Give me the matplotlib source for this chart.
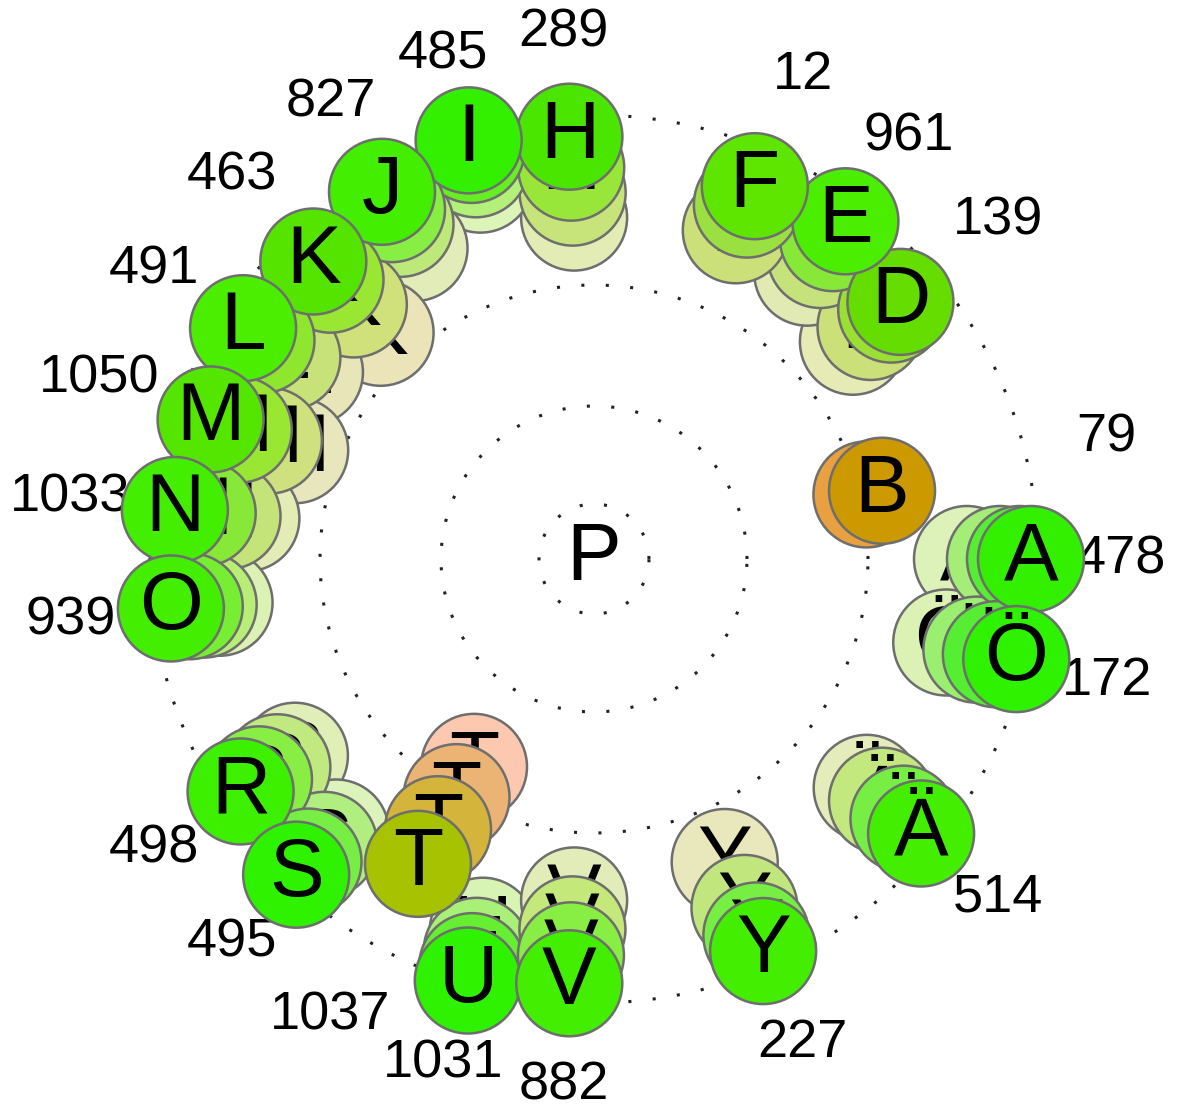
import numpy as np
import matplotlib.pyplot as plt
from matplotlib.patches import Circle

plt.rcParams['font.family'] = ['Liberation Sans', 'DejaVu Sans']

# 27 slots round the ring, slot i at i*360/27 degrees (counter-clockwise from the right)
n_slots = 27
centre_label = "P"
letters = ["A", "B", "D", "E", "F", "H", "I", "J", "K", "L", "M",
           "N", "O", "R", "S", "T", "U", "V", "Y", "Ä", "Ö"]
slots = [0, 1, 3, 4, 5, 7, 8, 9, 10, 11, 12,
         13, 14, 16, 17, 18, 19, 20, 22, 24, 26]
counts = [478, 79, 139, 961, 12, 289, 485, 827, 463, 491, 1050,
          1033, 939, 498, 495, 1037, 1031, 882, 227, 514, 172]

# distance from the centre for each step, newest first
radii = [
    [437, 426, 406, 373],  # A
    [296, 280],            # B
    [400, 388, 361, 338],  # D
    [421, 400, 379, 357],  # E
    [406, 386, 358],       # F
    [423, 392, 367, 342],  # H
    [437, 427, 412, 396],  # I
    [424, 404, 387, 359],  # J
    [409, 384, 350, 311],  # K
    [420, 398, 367, 340],  # L
    [408, 378, 346, 318],  # M
    [422, 394, 369, 350],  # N
    [426, 407, 393, 377],  # O
    [423, 401, 379, 358],  # R
    [434, 416, 393, 376],  # S
    [352, 312, 275, 240],  # T
    [440, 425, 409, 388],  # U
    [425, 397, 371, 342],  # V
    [427, 410, 380, 330],  # Y
    [427, 404, 376, 356],  # Ä
    [434, 413, 393, 362],  # Ö
]

ring_radii = [55, 153, 274, 444]

# fill colours, newest first
colors = {
    "A": ["#33f000", "#55ee33", "#a4ee77", "#dcf2b8"],
    "B": ["#cc9900", "#e8a040"],
    "D": ["#66dd00", "#99e033", "#cce07a", "#e6eab4"],
    "E": ["#4cee00", "#88e838", "#c6e27a", "#e2eab4"],
    "F": ["#5ee600", "#99e040", "#cce07a"],
    "H": ["#4be600", "#99e63a", "#c6e47a", "#e2ecb4"],
    "I": ["#33f000", "#66ee22", "#b2f07a", "#ddf4b8"],
    "J": ["#44ee00", "#88ee44", "#bde87a", "#e2ecb8"],
    "K": ["#55e400", "#99e633", "#d0e07a", "#eae4b8"],
    "L": ["#4cee00", "#8ee62e", "#c8e27a", "#e8e6b8"],
    "M": ["#55e600", "#99e633", "#cfe07e", "#e8e6bc"],
    "N": ["#44ee00", "#88e838", "#c4e47a", "#e2ecb4"],
    "O": ["#44ee00", "#77ee33", "#b8ee77", "#dcf2b4"],
    "R": ["#3cf000", "#88ee44", "#c0ea80", "#e0eeb8"],
    "S": ["#2ef200", "#77ee44", "#b0ee80", "#dcf4bc"],
    "T": ["#a6c200", "#d4b43a", "#ecb474", "#fcc8b0"],
    "U": ["#2ef200", "#66ee33", "#a8f077", "#d8f4b4"],
    "V": ["#44ee00", "#88ee44", "#c4e87a", "#e2ecb8"],
    "Y": ["#44ee00", "#77ee44", "#c2e67e", "#e8e8bc"],
    "Ä": ["#44ee00", "#77ee44", "#c2e87e", "#e4ecbc"],
    "Ö": ["#2ef200", "#55ee33", "#9aee70", "#dcf2b4"],
}

circle_r = 53
label_r = 527

fig = plt.figure(figsize=(11.82, 11.11), dpi=100)
ax = fig.add_axes([0, 0, 1, 1])
ax.set_xlim(-594, 588)
ax.set_ylim(-552, 559)
ax.set_aspect('equal')
ax.set_axis_off()

# dotted guide rings
t = np.linspace(0, 2 * np.pi, 600)
for rr in ring_radii:
    ax.plot(rr * np.cos(t), rr * np.sin(t), color='#222222', lw=2.2,
            linestyle=(0, (1, 7)), zorder=1)

ax.text(0, 0, centre_label, fontsize=59, ha='center', va='center', zorder=2)

def slot_angle(s):
    return np.deg2rad(s * 360.0 / n_slots)

# count labels sit underneath the circles
for s, c in zip(slots, counts):
    a = slot_angle(s)
    ax.text(label_r * np.cos(a), label_r * np.sin(a), str(c), fontsize=39,
            ha='center', va='center', zorder=3)

# oldest step of every letter first, newest on top
z = 10
depth = max(len(r) for r in radii)
for d in range(depth - 1, -1, -1):
    for let, s, rs in zip(letters, slots, radii):
        if d >= len(rs):
            continue
        a = slot_angle(s)
        x, y = rs[d] * np.cos(a), rs[d] * np.sin(a)
        ax.add_patch(Circle((x, y), circle_r, facecolor=colors[let][d],
                            edgecolor='#6e6e6e', lw=1.8, zorder=z))
        ax.text(x, y, let, fontsize=59, ha='center', va='center', zorder=z + 1)
        z += 2

fig.savefig('out.png', dpi=100, facecolor='white')
